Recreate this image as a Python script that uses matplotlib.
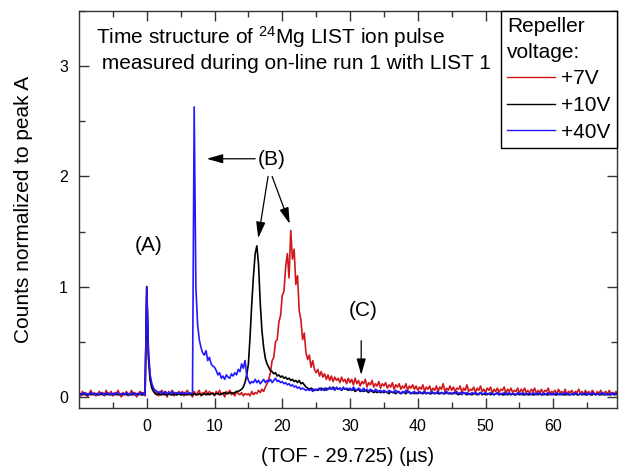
import numpy as np
import matplotlib
matplotlib.use("Agg")
import matplotlib.pyplot as plt

plt.rcParams['font.family'] = ['Liberation Sans', 'DejaVu Sans']
plt.rcParams['mathtext.fontset'] = 'custom'
plt.rcParams['mathtext.rm'] = 'Liberation Sans'
plt.rcParams['mathtext.it'] = 'Liberation Sans'

# time axis (µs), 0.25 µs bins from -10 to 70
t_start, t_stop, t_step = -10.0, 70.0, 0.25

red_7V = [
    0.03,0.01,0.05,0.02,0.04,0.00,0.03,0.06,0.02,0.04,0.01,0.03,0.05,0.02,0.04,0.01,0.06,0.02,0.03,0.05,
    0.01,0.04,0.02,0.06,0.03,0.00,0.04,0.02,0.05,0.01,0.03,0.06,0.02,0.04,0.00,0.03,0.05,0.02,0.04,0.01,
    1.00,0.38,0.18,0.10,0.06,0.03,0.05,0.01,0.04,0.06,0.02,0.04,0.00,0.05,0.03,0.06,0.01,0.04,0.02,0.05,
    0.02,0.05,0.01,0.04,0.06,0.02,0.03,0.00,0.05,0.02,0.04,0.06,0.01,0.04,0.03,0.06,0.02,0.05,0.03,0.04,
    0.01,0.05,0.03,0.06,0.02,0.04,0.00,0.05,0.03,0.06,0.02,0.04,0.01,0.05,0.03,0.02,0.04,0.01,0.03,0.02,
    0.03,0.01,0.05,0.02,0.04,0.03,0.06,0.04,0.07,0.05,0.09,0.12,0.16,0.22,0.33,0.36,0.50,0.52,0.68,0.74,
    0.92,0.96,1.18,1.30,1.08,1.51,1.25,1.34,1.02,1.10,0.78,0.70,0.52,0.58,0.40,0.34,0.38,0.27,0.33,0.25,
    0.22,0.25,0.19,0.23,0.18,0.21,0.16,0.20,0.15,0.19,0.14,0.18,0.15,0.17,0.13,0.18,0.14,0.16,0.12,0.17,
    0.13,0.16,0.11,0.17,0.12,0.15,0.10,0.14,0.12,0.16,0.09,0.13,0.11,0.15,0.09,0.12,0.10,0.14,0.08,0.12,
    0.10,0.13,0.08,0.11,0.09,0.13,0.07,0.11,0.09,0.12,0.07,0.10,0.08,0.12,0.06,0.10,0.08,0.11,0.07,0.10,
    0.06,0.09,0.07,0.11,0.05,0.09,0.07,0.10,0.05,0.08,0.06,0.10,0.05,0.09,0.07,0.12,0.05,0.08,0.06,0.10,
    0.06,0.09,0.05,0.08,0.07,0.10,0.04,0.08,0.06,0.11,0.05,0.07,0.06,0.09,0.04,0.08,0.06,0.10,0.05,0.07,
    0.04,0.08,0.06,0.09,0.03,0.07,0.05,0.08,0.04,0.07,0.06,0.09,0.03,0.07,0.05,0.08,0.04,0.06,0.05,0.08,
    0.03,0.07,0.05,0.08,0.04,0.06,0.03,0.07,0.05,0.08,0.03,0.06,0.04,0.07,0.03,0.06,0.05,0.08,0.03,0.05,
    0.04,0.06,0.02,0.07,0.04,0.05,0.03,0.07,0.02,0.05,0.04,0.06,0.02,0.05,0.04,0.07,0.03,0.05,0.02,0.06,
    0.03,0.05,0.02,0.06,0.04,0.02,0.05,0.03,0.06,0.02,0.04,0.05,0.02,0.06,0.03,0.04,0.02,0.05,0.03,0.04,
    0.03,
]

black_10V = [
    0.02,0.03,0.02,0.03,0.02,0.02,0.03,0.02,0.03,0.02,0.03,0.02,0.02,0.03,0.02,0.03,0.02,0.03,0.02,0.02,
    0.03,0.02,0.03,0.02,0.02,0.03,0.02,0.03,0.02,0.03,0.02,0.02,0.03,0.02,0.03,0.02,0.03,0.02,0.02,0.03,
    1.00,0.35,0.15,0.08,0.05,0.03,0.02,0.03,0.02,0.02,0.03,0.02,0.02,0.03,0.02,0.02,0.03,0.02,0.02,0.03,
    0.02,0.02,0.03,0.02,0.02,0.03,0.02,0.02,0.03,0.02,0.02,0.03,0.02,0.02,0.03,0.02,0.03,0.02,0.03,0.03,
    0.02,0.03,0.03,0.02,0.03,0.03,0.04,0.03,0.03,0.04,0.04,0.03,0.04,0.05,0.05,0.06,0.07,0.09,0.13,0.20,
    0.30,0.55,0.85,1.10,1.30,1.37,1.20,0.85,0.60,0.45,0.35,0.30,0.27,0.24,0.23,0.21,0.22,0.19,0.20,0.18,
    0.19,0.17,0.18,0.16,0.17,0.15,0.16,0.14,0.15,0.13,0.15,0.12,0.13,0.11,0.09,0.08,0.07,0.08,0.07,0.06,
    0.07,0.06,0.07,0.08,0.07,0.06,0.08,0.07,0.08,0.07,0.09,0.07,0.08,0.07,0.08,0.06,0.08,0.07,0.07,0.06,
    0.07,0.06,0.07,0.05,0.06,0.07,0.05,0.06,0.05,0.06,0.05,0.04,0.06,0.05,0.04,0.05,0.04,0.05,0.04,0.05,
    0.04,0.05,0.04,0.03,0.05,0.04,0.04,0.03,0.05,0.04,0.03,0.04,0.04,0.03,0.05,0.04,0.03,0.04,0.03,0.04,
    0.03,0.04,0.04,0.03,0.04,0.03,0.04,0.03,0.03,0.04,0.03,0.04,0.03,0.03,0.04,0.03,0.03,0.04,0.03,0.03,
    0.03,0.03,0.04,0.03,0.02,0.03,0.03,0.04,0.03,0.02,0.03,0.03,0.02,0.03,0.03,0.02,0.03,0.04,0.02,0.03,
    0.02,0.03,0.03,0.02,0.03,0.02,0.03,0.03,0.02,0.03,0.02,0.02,0.03,0.02,0.03,0.02,0.03,0.02,0.02,0.03,
    0.02,0.03,0.02,0.02,0.03,0.02,0.02,0.03,0.02,0.02,0.03,0.02,0.03,0.02,0.02,0.03,0.02,0.02,0.03,0.02,
    0.03,0.02,0.02,0.03,0.02,0.03,0.02,0.02,0.03,0.02,0.02,0.03,0.02,0.03,0.02,0.02,0.03,0.02,0.03,0.02,
    0.02,0.03,0.02,0.02,0.03,0.02,0.03,0.02,0.02,0.03,0.02,0.02,0.03,0.02,0.02,0.03,0.02,0.03,0.02,0.02,
    0.02,
]

blue_40V = [
    0.03,0.02,0.03,0.04,0.02,0.03,0.02,0.04,0.03,0.02,0.03,0.03,0.02,0.04,0.03,0.02,0.03,0.04,0.02,0.03,
    0.03,0.02,0.04,0.03,0.02,0.03,0.03,0.02,0.04,0.03,0.02,0.03,0.04,0.02,0.03,0.03,0.02,0.04,0.03,0.02,
    1.00,0.42,0.20,0.12,0.08,0.06,0.05,0.04,0.05,0.03,0.04,0.05,0.03,0.04,0.03,0.05,0.04,0.03,0.04,0.03,
    0.04,0.03,0.04,0.03,0.03,0.04,0.03,0.04,2.63,1.00,0.66,0.52,0.45,0.40,0.38,0.42,0.33,0.36,0.30,0.28,
    0.27,0.24,0.20,0.22,0.17,0.19,0.16,0.20,0.18,0.17,0.21,0.19,0.22,0.20,0.25,0.23,0.30,0.26,0.33,0.20,
    0.15,0.12,0.14,0.13,0.16,0.13,0.15,0.12,0.14,0.16,0.13,0.15,0.14,0.16,0.13,0.15,0.17,0.14,0.15,0.13,
    0.14,0.12,0.13,0.11,0.12,0.10,0.11,0.09,0.10,0.08,0.09,0.07,0.08,0.07,0.06,0.07,0.06,0.07,0.05,0.07,
    0.06,0.07,0.08,0.06,0.07,0.08,0.06,0.07,0.09,0.07,0.08,0.06,0.09,0.07,0.08,0.06,0.09,0.07,0.08,0.07,
    0.08,0.06,0.09,0.07,0.06,0.08,0.07,0.05,0.08,0.06,0.07,0.05,0.07,0.06,0.05,0.07,0.06,0.05,0.06,0.04,
    0.06,0.05,0.04,0.06,0.05,0.04,0.05,0.06,0.04,0.05,0.03,0.05,0.04,0.06,0.04,0.05,0.03,0.04,0.05,0.03,
    0.04,0.05,0.03,0.04,0.05,0.03,0.04,0.03,0.05,0.04,0.03,0.04,0.05,0.03,0.04,0.03,0.04,0.05,0.03,0.04,
    0.03,0.04,0.03,0.05,0.03,0.04,0.02,0.04,0.03,0.04,0.03,0.02,0.04,0.03,0.04,0.03,0.02,0.04,0.03,0.03,
    0.04,0.02,0.03,0.04,0.03,0.02,0.03,0.04,0.02,0.03,0.03,0.04,0.02,0.03,0.04,0.02,0.03,0.03,0.02,0.04,
    0.03,0.02,0.04,0.03,0.02,0.03,0.03,0.02,0.04,0.03,0.02,0.03,0.04,0.02,0.03,0.02,0.03,0.04,0.02,0.03,
    0.02,0.03,0.04,0.02,0.03,0.02,0.03,0.04,0.02,0.03,0.02,0.03,0.02,0.04,0.03,0.02,0.03,0.02,0.03,0.04,
    0.02,0.03,0.02,0.04,0.03,0.02,0.03,0.02,0.03,0.04,0.02,0.03,0.02,0.03,0.02,0.04,0.03,0.02,0.03,0.02,
    0.03,
]

labels = ['+7V', '+10V', '+40V']
colors = ['#d0181c', '#000000', '#2318ff']

x_ticks = [0, 10, 20, 30, 40, 50, 60]
y_ticks = [0, 1, 2, 3]

t = np.arange(len(red_7V)) * t_step + t_start

fig = plt.figure(figsize=(6.19, 4.70), dpi=100)
ax = fig.add_axes([79 / 619, 1 - 408 / 470, (617 - 79) / 619, (408 - 11) / 470])

for series, lab, col in zip([red_7V, black_10V, blue_40V], labels, colors):
    ax.plot(t, series, color=col, lw=1.2, label=lab)

ax.set_xlim(-10, 69.4)
ax.set_ylim(-0.1, 3.5)
ax.set_xticks(x_ticks)
ax.set_yticks(y_ticks)
ax.set_xticks(np.arange(-5, 70, 5), minor=True)
ax.set_yticks(np.arange(0, 3.6, 0.5), minor=True)
ax.tick_params(which='both', direction='in', top=True, right=True, labelsize=11.5, color='#333333')
ax.tick_params(which='major', length=7, width=1)
ax.tick_params(which='minor', length=4, width=1)
ax.tick_params(axis='x', pad=8)
ax.tick_params(axis='y', pad=8)
for sp in ax.spines.values():
    sp.set_linewidth(1.0)
    sp.set_color('#333333')

ax.set_xlabel('(TOF - 29.725) (µs)', fontsize=14.5, labelpad=9)
ax.set_ylabel('Counts normalized to peak A', fontsize=15, labelpad=19)

ax.text(-7.45, 3.26, 'Time structure of $^{24}$Mg LIST ion pulse', fontsize=15, va='center', ha='left')
ax.text(-7.45, 3.02, ' measured during on-line run 1 with LIST 1', fontsize=15, va='center', ha='left')

ax.text(0.3, 1.37, '(A)', fontsize=15, ha='center', va='center')
ax.text(18.4, 2.15, '(B)', fontsize=15, ha='center', va='center')
ax.text(32.0, 0.78, '(C)', fontsize=15, ha='center', va='center')

arrow = dict(arrowstyle='-|>,head_length=0.7,head_width=0.2', color='k', lw=0.9,
             shrinkA=0, shrinkB=0, mutation_scale=14)
ax.annotate('', xy=(8.85, 2.16), xytext=(16.0, 2.16), arrowprops=arrow)
ax.annotate('', xy=(16.45, 1.44), xytext=(17.9, 2.0), arrowprops=arrow)
ax.annotate('', xy=(21.1, 1.57), xytext=(18.5, 2.0), arrowprops=arrow)
ax.annotate('', xy=(31.65, 0.20), xytext=(31.65, 0.51), arrowprops=arrow)

leg = ax.legend(loc='upper right', title='Repeller\nvoltage:', fontsize=15, title_fontsize=15,
                frameon=True, fancybox=False, edgecolor='black', framealpha=1,
                borderaxespad=0, handlelength=2.3, handletextpad=0.3, borderpad=0.3,
                labelspacing=0.36, alignment='left')
leg.get_title().set_linespacing(1.45)
leg.get_frame().set_linewidth(1.0)
for line in leg.get_lines():
    line.set_linewidth(1.0)

fig.savefig('out.png', dpi=100)
